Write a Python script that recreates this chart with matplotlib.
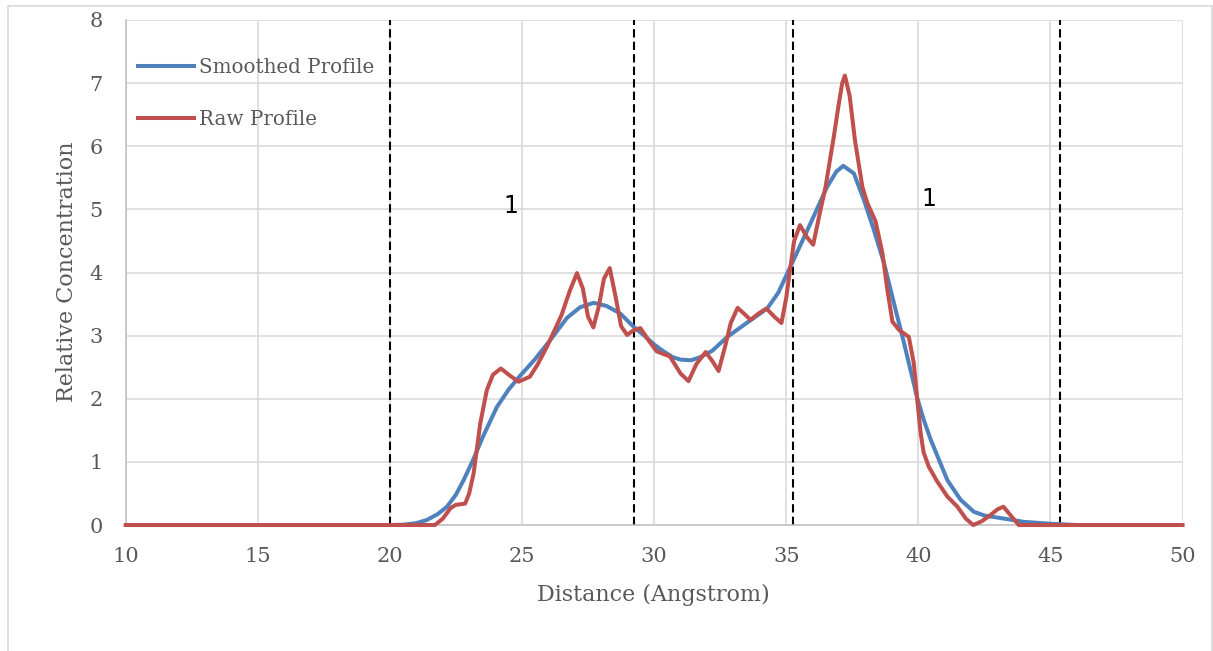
import matplotlib
matplotlib.use("Agg")
import matplotlib.pyplot as plt
from matplotlib.patches import Rectangle

# Smoothed profile
smooth_x = [10, 20, 20.5, 21, 21.4, 21.8, 22.16, 22.5, 22.8, 23.17, 23.5, 24.05,
            24.5, 24.94, 25.5, 26.07, 26.7, 27.2, 27.71, 28.2, 28.72, 29.2, 29.6,
            30.0, 30.36, 30.7, 31.0, 31.4, 31.75, 32.2, 32.77, 33.5, 34.28, 34.7,
            35.1, 35.5, 35.92, 36.55, 36.9, 37.16, 37.56, 37.94, 38.32, 38.7,
            39.08, 39.46, 39.96, 40.21, 40.47, 41.1, 41.6, 42.1, 42.5, 43.12,
            44.0, 45.01, 46, 50]
smooth_y = [0, 0, 0.005, 0.03, 0.08, 0.17, 0.29, 0.48, 0.72, 1.05, 1.38, 1.87,
            2.15, 2.37, 2.63, 2.93, 3.28, 3.45, 3.52, 3.47, 3.35, 3.15, 3.01,
            2.86, 2.75, 2.66, 2.62, 2.61, 2.66, 2.76, 2.98, 3.2, 3.43, 3.68,
            4.04, 4.4, 4.78, 5.36, 5.6, 5.69, 5.57, 5.15, 4.67, 4.15,
            3.51, 2.88, 2.01, 1.66, 1.35, 0.71, 0.4, 0.21, 0.15, 0.11,
            0.05, 0.02, 0.0, 0]

# Raw profile
raw_x = [10, 21.7, 22.0, 22.3, 22.5, 22.85, 23.0, 23.17, 23.42, 23.67, 23.9,
         24.2, 24.5, 24.87, 25.3, 25.6, 25.95, 26.5, 26.8, 27.08, 27.3, 27.5,
         27.7, 27.9, 28.1, 28.32, 28.55, 28.75, 28.98, 29.2, 29.48, 29.8, 30.1,
         30.6, 31.0, 31.3, 31.6, 31.95, 32.2, 32.44, 32.7, 32.9, 33.16, 33.4,
         33.65, 33.95, 34.25, 34.55, 34.82, 35.0, 35.16, 35.3, 35.52, 35.8,
         36.02, 36.25, 36.49, 36.8, 37.0, 37.12, 37.22, 37.4, 37.6, 37.88,
         38.07, 38.38, 38.64, 38.83, 39.02, 39.27, 39.64, 39.83, 39.96, 40.09,
         40.2, 40.4, 40.7, 41.1, 41.48, 41.8, 42.08, 42.4, 42.74, 43.0, 43.22,
         43.5, 43.8, 50]
raw_y = [0, 0, 0.1, 0.27, 0.32, 0.34, 0.5, 0.82, 1.61, 2.14, 2.38,
         2.48, 2.38, 2.27, 2.35, 2.55, 2.83, 3.33, 3.7, 3.99, 3.75, 3.3,
         3.13, 3.45, 3.9, 4.07, 3.6, 3.15, 3.01, 3.08, 3.12, 2.92, 2.75,
         2.67, 2.4, 2.28, 2.55, 2.74, 2.6, 2.44, 2.85, 3.2, 3.44, 3.35,
         3.25, 3.35, 3.43, 3.3, 3.2, 3.6, 4.09, 4.5, 4.75, 4.55,
         4.44, 4.9, 5.36, 6.15, 6.7, 7.0, 7.12, 6.8, 6.1, 5.36,
         5.1, 4.81, 4.31, 3.72, 3.22, 3.09, 2.98, 2.56, 1.98, 1.45,
         1.15, 0.92, 0.7, 0.45, 0.29, 0.1, 0.0, 0.06, 0.16, 0.25, 0.29,
         0.15, 0.0, 0]

boundaries = [20.0, 29.23, 35.27, 45.36]
annotations = [(24.59, 5.06, "1"), (40.4, 5.16, "1")]

x_ticks = [10, 15, 20, 25, 30, 35, 40, 45, 50]
y_ticks = [0, 1, 2, 3, 4, 5, 6, 7, 8]

TEXT = "#595959"
GRID = "#D9D9D9"
SERIF = "DejaVu Serif"

fig = plt.figure(figsize=(12.13, 6.51), dpi=100)
ax = fig.add_axes([0.1036, 0.1935, 0.8713, 0.7758])

# outer chart border
fig.patches.append(Rectangle((0.0066, -0.05), 0.9928, 1.0408, transform=fig.transFigure,
                             fill=False, edgecolor=GRID, linewidth=1.2))

ax.set_xlim(10, 50)
ax.set_ylim(0, 8)
ax.set_xticks(x_ticks)
ax.set_yticks(y_ticks)
ax.grid(True, color=GRID, linewidth=1.1)
ax.set_axisbelow(True)
for side in ["top", "right"]:
    ax.spines[side].set_visible(False)
ax.spines["left"].set_color("#BFBFBF")
ax.spines["bottom"].set_color("#BFBFBF")
ax.spines["left"].set_linewidth(1.1)
ax.spines["bottom"].set_linewidth(1.1)
ax.tick_params(length=0, labelcolor=TEXT, labelsize=15)
ax.tick_params(axis="y", pad=16.5)
ax.tick_params(axis="x", pad=15.5)
for lab in ax.get_xticklabels() + ax.get_yticklabels():
    lab.set_family(SERIF)

ax.vlines(boundaries, 0, 8, colors="black", linestyles=(0, (4, 2)), linewidth=1.5, zorder=2)

ax.plot(smooth_x, smooth_y, color="#4F81BD", linewidth=2.9, label="Smoothed Profile",
        solid_joinstyle="round", zorder=3)
ax.plot(raw_x, raw_y, color="#C0504D", linewidth=2.9, label="Raw Profile",
        solid_joinstyle="round", zorder=4, clip_on=False)

for x, y, s in annotations:
    ax.text(x, y, s, ha="center", va="center", fontsize=17, color="black",
            family="DejaVu Sans")

leg = ax.legend(loc="upper left", bbox_to_anchor=(0.0116, 0.925), frameon=False,
                borderpad=0, borderaxespad=0, handlelength=2.8, handletextpad=0.3,
                labelspacing=1.66, prop={"family": SERIF, "size": 14.3})
for t in leg.get_texts():
    t.set_color(TEXT)

fig.text(66.7 / 1213, 1 - 272 / 651, "Relative Concentration", rotation=90,
         ha="center", va="center", color=TEXT, fontsize=16, family=SERIF)
fig.text(653.4 / 1213, 1 - 595 / 651, "Distance (Angstrom)",
         ha="center", va="center", color=TEXT, fontsize=16, family=SERIF)

fig.savefig("out.png", dpi=100)
